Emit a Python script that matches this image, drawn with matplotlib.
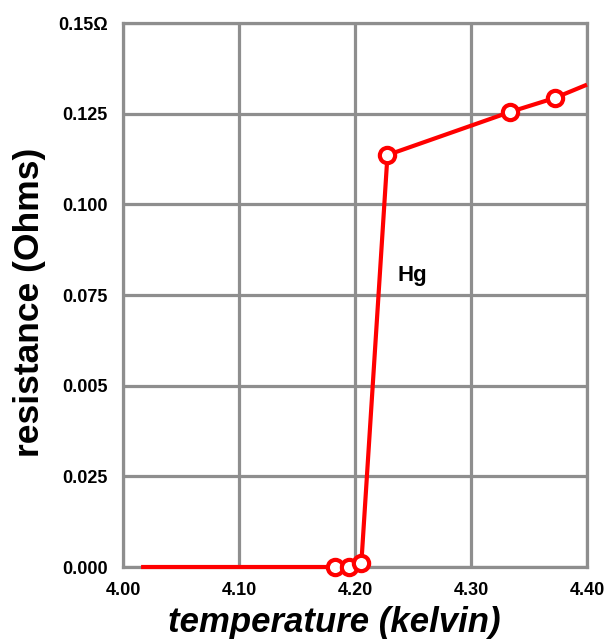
import matplotlib
matplotlib.use("Agg")
import matplotlib.pyplot as plt

# data
temps = [4.0156, 4.183, 4.1945, 4.2055, 4.228, 4.334, 4.372, 4.400]
resist = [0.0, 0.0, 0.0, 0.0012, 0.1136, 0.1255, 0.1293, 0.1330]
marker_idx = [1, 2, 3, 4, 5, 6]
x_ticks = [4.00, 4.10, 4.20, 4.30, 4.40]
x_labels = ["4.00", "4.10", "4.20", "4.30", "4.40"]
y_ticks = [0.0, 0.025, 0.05, 0.075, 0.100, 0.125, 0.15]
y_labels = ["0.000", "0.025", "0.005", "0.075", "0.100", "0.125", "0.15Ω"]

plt.rcParams['font.family'] = ['Liberation Sans', 'DejaVu Sans']

fig = plt.figure(figsize=(6.08, 6.42), dpi=100)
ax = fig.add_axes([123/608, 75/642, 464/608, 544/642])

gray = "#8e8e8e"
ax.set_xlim(4.0, 4.4)
ax.set_ylim(0, 0.15)
ax.set_xticks(x_ticks)
ax.set_xticklabels(x_labels, fontsize=13, fontweight='bold')
ax.set_yticks(y_ticks)
ax.set_yticklabels(y_labels, fontsize=13, fontweight='bold')
ax.tick_params(length=0)
ax.tick_params(axis='x', pad=11)
ax.tick_params(axis='y', pad=11)
ax.grid(True, color=gray, linewidth=2.3)
ax.set_axisbelow(True)
for s in ax.spines.values():
    s.set_color(gray)
    s.set_linewidth(2.3)

ax.plot(temps, resist, color="#ff0000", linewidth=3, solid_capstyle='butt',
        clip_on=False, zorder=3)
ax.plot([temps[i] for i in marker_idx], [resist[i] for i in marker_idx],
        linestyle='none', marker='o', markersize=11, markerfacecolor='white',
        markeredgecolor="#ff0000", markeredgewidth=3, clip_on=False, zorder=4)

ax.text(4.249, 0.0805, "Hg", fontsize=16, fontweight='bold', ha='center', va='center')

ax.set_xlabel("temperature (kelvin)", fontsize=25, fontweight='bold', fontstyle='italic')
ax.xaxis.set_label_coords(0.455, -0.071)
ax.set_ylabel("resistance (Ohms)", fontsize=25.5, fontweight='bold')
ax.yaxis.set_label_coords(-0.166, 0.487)

fig.savefig("out.png", dpi=100)
